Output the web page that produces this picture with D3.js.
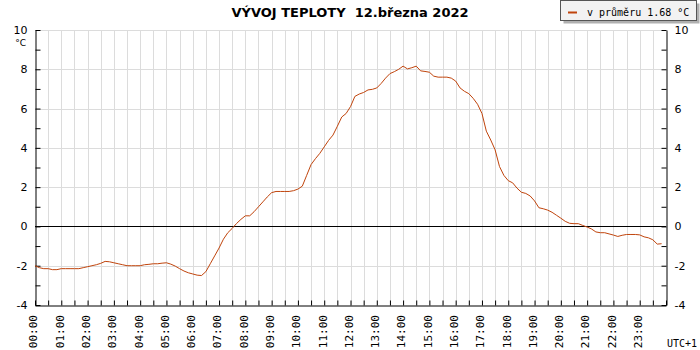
<!DOCTYPE html>
<html>
<head>
<meta charset="utf-8">
<script src="https://cdn.jsdelivr.net/npm/d3@7"></script>
<style>
  body { margin: 0; background: #fff; }
  svg { display: block; }
  text { font-family: "DejaVu Sans", Verdana, sans-serif; }
</style>
</head>
<body>
<div class="chart"></div>
<script>
// Data (10 min readings)
var times = [];
for (var h = 0; h < 24; h++) {
    for (var m = 0; m < 60; m += 10) {
        times.push((h < 10 ? "0" + h : "" + h) + ":" + (m < 10 ? "0" + m : "" + m));
    }
}
var temps = [
    -2.0, -2.1, -2.15, -2.15, -2.2, -2.2,
    -2.15, -2.15, -2.15, -2.15, -2.15, -2.1,
    -2.05, -2.0, -1.95, -1.88, -1.78, -1.8,
    -1.85, -1.9, -1.95, -2.0, -2.0, -2.0,
    -2.0, -1.95, -1.93, -1.9, -1.9, -1.87,
    -1.85, -1.92, -2.02, -2.15, -2.27, -2.36,
    -2.42, -2.48, -2.5, -2.3, -1.9, -1.5,
    -1.1, -0.65, -0.32, -0.1, 0.15, 0.36,
    0.54, 0.54, 0.75, 1.0, 1.25, 1.5,
    1.72, 1.78, 1.78, 1.78, 1.78, 1.82,
    1.9, 2.05, 2.6, 3.15, 3.45, 3.72,
    4.05, 4.38, 4.65, 5.1, 5.57, 5.75,
    6.1, 6.62, 6.74, 6.82, 6.95, 6.98,
    7.05, 7.28, 7.55, 7.78, 7.88, 8.0,
    8.16, 8.02, 8.08, 8.16, 7.92, 7.89,
    7.85, 7.65, 7.6, 7.6, 7.6, 7.55,
    7.4, 7.05, 6.88, 6.76, 6.52, 6.22,
    5.75, 4.85, 4.4, 3.9, 3.05, 2.6,
    2.33, 2.22, 1.95, 1.74, 1.68, 1.55,
    1.3, 0.95, 0.9, 0.83, 0.72, 0.57,
    0.42, 0.26, 0.16, 0.14, 0.14, 0.05,
    -0.03, -0.13, -0.28, -0.32, -0.32, -0.38,
    -0.44, -0.51, -0.45, -0.41, -0.41, -0.41,
    -0.43, -0.53, -0.58, -0.68, -0.9, -0.88
];
var hourLabels = d3.range(0, 24).map(h => (h < 10 ? "0" + h : "" + h) + ":00");
var yTicksMajor = [-4, -2, 0, 2, 4, 6, 8, 10];
var titleText = "VÝVOJ TEPLOTY  12.března 2022";
var legendText = "v průměru 1.68 °C";

function toHours(s) {
    var p = s.split(":");
    return +p[0] + p[1] / 60;
}
var data = times.map((t, i) => ({ t: toHours(t), v: temps[i] }));

var svgWidth = 700, svgHeight = 350;
var margin = { top: 30, right: 34, bottom: 45, left: 35 };
var width = svgWidth - margin.left - margin.right;
var height = svgHeight - margin.top - margin.bottom;

var svg = d3.select(".chart").append("svg")
    .attr("width", svgWidth)
    .attr("height", svgHeight);

var x = d3.scaleLinear().domain([0, 24]).range([0, width]);
var y = d3.scaleLinear().domain([-4, 10]).range([height, 0]);

var g = svg.append("g")
    .attr("transform", `translate(${margin.left}, ${margin.top})`);

// grid
g.append("g").selectAll("line")
    .data(d3.range(0.5, 24, 0.5))
    .enter().append("line")
    .attr("x1", d => Math.round(x(d)) + 0.5).attr("x2", d => Math.round(x(d)) + 0.5)
    .attr("y1", 0).attr("y2", height)
    .attr("stroke", "#dcdcdc");
g.append("g").selectAll("line")
    .data(yTicksMajor.filter(d => d != 0 && d != -4))
    .enter().append("line")
    .attr("x1", 0).attr("x2", width)
    .attr("y1", d => Math.round(y(d)) + 0.5).attr("y2", d => Math.round(y(d)) + 0.5)
    .attr("stroke", "#dcdcdc");

// zero line
g.append("line")
    .attr("x1", 0).attr("x2", width)
    .attr("y1", Math.round(y(0)) + 0.5).attr("y2", Math.round(y(0)) + 0.5)
    .attr("stroke", "#000");

// axes
var leftAxis = d3.axisLeft(y).tickValues(d3.range(-4, 11)).tickSizeInner(-5).tickSizeOuter(0)
    .tickFormat(d => d % 2 == 0 ? d : "");
var rightAxis = d3.axisRight(y).tickValues(d3.range(-4, 11)).tickSizeInner(-5).tickSizeOuter(0)
    .tickFormat(d => d % 2 == 0 ? d : "");
var bottomAxis = d3.axisBottom(x).tickValues(d3.range(0, 24.01, 0.5)).tickSizeInner(-5).tickSizeOuter(0)
    .tickFormat("");

var gl = g.append("g").attr("transform", "translate(0.5,0)").call(leftAxis);
var gr = g.append("g").attr("transform", `translate(${width + 0.5},0)`).call(rightAxis);
var gb = g.append("g").attr("transform", `translate(0,${height + 0.5})`).call(bottomAxis);
[gl, gr, gb].forEach(a => {
    a.select(".domain").attr("stroke", "#000");
    a.selectAll(".tick line").attr("stroke", "#000");
    a.selectAll(".tick text").attr("fill", "#000").style("font-size", "11px");
});
gl.selectAll(".tick text").attr("x", -8);
gr.selectAll(".tick text").attr("x", 8);

// unit
g.append("text").attr("x", -9).attr("y", 16).attr("text-anchor", "end")
    .style("font-size", "9px").text("°C");

// hour labels
g.append("g").selectAll("text")
    .data(hourLabels)
    .enter().append("text")
    .attr("transform", (d, i) => `translate(${x(i) - 1.5}, ${height + 10}) rotate(-90)`)
    .attr("text-anchor", "end")
    .attr("dy", "0.35em")
    .style("font-family", "'DejaVu Sans Mono', monospace")
    .style("font-size", "11px")
    .text(d => d);

svg.append("text").attr("x", 697).attr("y", 347).attr("text-anchor", "end")
    .style("font-family", "'DejaVu Sans Mono', monospace")
    .style("font-size", "10px").text("UTC+1");

// line
var line = d3.line().x(d => x(d.t)).y(d => y(d.v));
g.append("path").datum(data)
    .attr("d", line)
    .attr("fill", "none")
    .attr("stroke", "#c0440c")
    .attr("stroke-width", 1);

// title
svg.append("text").attr("x", 350).attr("y", 17).attr("text-anchor", "middle")
    .style("font-weight", "bold").style("font-size", "13px")
    .style("white-space", "pre")
    .text(titleText);

// legend
var lg = svg.append("g");
lg.append("rect").attr("x", 563.5).attr("y", 3.5).attr("width", 136).attr("height", 20).attr("fill", "#b0b0b0");
lg.append("rect").attr("x", 560.5).attr("y", 0.5).attr("width", 136).attr("height", 20)
    .attr("fill", "#f2f2f2").attr("stroke", "#555");
lg.append("line").attr("x1", 568).attr("x2", 577).attr("y1", 12.5).attr("y2", 12.5)
    .attr("stroke", "#c0440c").attr("stroke-width", 2);
lg.append("text").attr("x", 587).attr("y", 15.5)
    .style("font-family", "'DejaVu Sans Mono', monospace").style("font-size", "10px")
    .text(legendText);
</script>
</body>
</html>
